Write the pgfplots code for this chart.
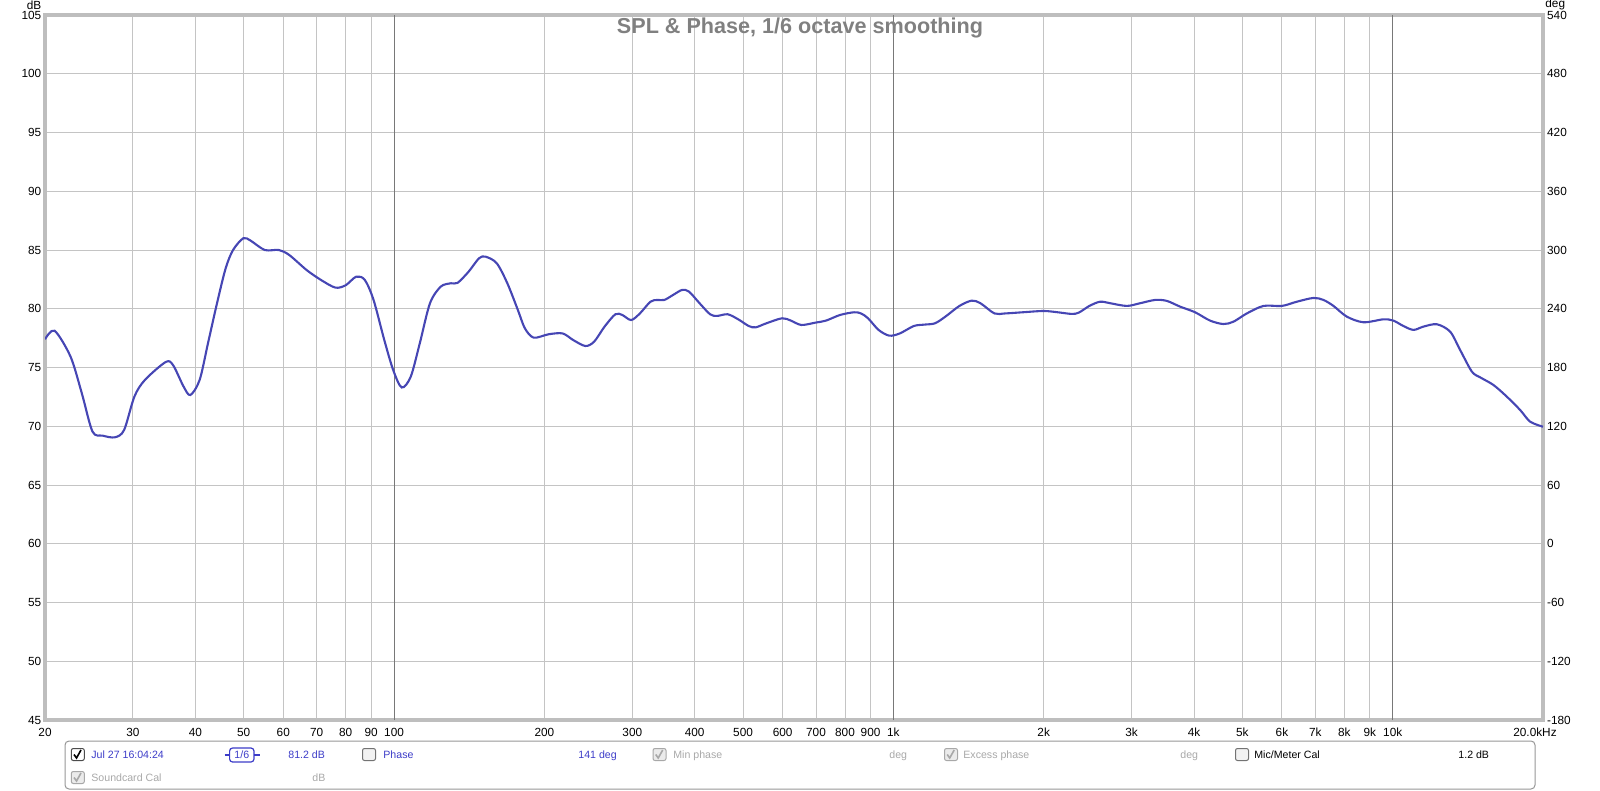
\documentclass[border=0pt]{standalone}
\usepackage{fontspec}
\setmainfont{Liberation Sans}
\usepackage{pgfplots}
\pgfplotsset{compat=1.18}
\definecolor{gridgray}{RGB}{196,196,196}
\definecolor{decgray}{RGB}{120,120,120}
\definecolor{framegray}{RGB}{190,190,190}
\definecolor{curveblue}{RGB}{70,70,180}
\definecolor{titlegray}{RGB}{128,128,128}
\definecolor{legblue}{RGB}{60,60,200}
\definecolor{leggray}{RGB}{168,168,168}
\definecolor{boxgray}{RGB}{150,150,150}
\begin{document}
\begin{tikzpicture}
\path[use as bounding box] (0,0) rectangle (800pt,-395.5pt);
\begin{axis}[
  at={(22.5pt,-360pt)}, anchor=south west,
  scale only axis, width=749pt, height=352.5pt,
  xmode=log, xmin=20, xmax=20000, ymin=45, ymax=105,
  xtick={20,30,40,50,60,70,80,90,100,200,300,400,500,600,700,800,900,1000,2000,3000,4000,5000,6000,7000,8000,9000,10000},
  xticklabels={20,30,40,50,60,70,80,90,100,200,300,400,500,600,700,800,900,1k,2k,3k,4k,5k,6k,7k,8k,9k,10k},
  ytick={45,50,...,105},
  /pgf/number format/assume math mode=true,
  grid=major,
  major grid style={color=gridgray, line width=0.5pt},
  major tick length=0pt,
  axis line style={draw=framegray, line width=1.6pt},
  tick label style={font=\fontsize{5.9}{6}\selectfont, text=black},
  xticklabel style={anchor=base, inner sep=0pt, yshift=-8pt},
  yticklabel style={anchor=east, inner sep=0pt, xshift=-1.65pt},
  extra x ticks={100,1000,10000},
  extra x tick labels={},
  extra x tick style={grid=major, major grid style={color=decgray, line width=0.5pt}},
]
\addplot[curveblue, line width=1.05pt, smooth, tension=0.5] table {
f db
20 77.4
20.9 78.13
22.5 75.92
23.7 72.8
24.9 69.54
26.1 69.2
27.6 69.06
28.8 69.68
30.2 72.52
31.7 73.94
34.9 75.47
36.1 75.2
37.9 73.37
39.1 72.66
40.8 73.94
42.4 77.06
44.2 80.46
46.0 83.44
47.6 85.0
49.9 86.0
51.6 85.8
55.1 85.0
58.8 85.0
61.7 84.57
66.8 83.3
71.4 82.45
76.3 81.8
80.0 82.0
84.0 82.73
87.4 82.45
91.0 80.74
95.6 77.34
99.6 74.79
103.6 73.3
108 74.22
112.6 77.06
118 80.46
124 81.88
130 82.17
134 82.2
141 83.15
148 84.3
152.6 84.43
160.6 83.87
168.6 82.17
177 79.9
182.8 78.34
190.4 77.54
204 77.83
217.6 77.9
228.4 77.34
241.6 76.83
251.6 77.2
264 78.48
277.5 79.53
286.5 79.47
298.4 79.04
310.7 79.6
326.2 80.6
336.9 80.75
347.9 80.75
362.3 81.18
377.4 81.6
389.7 81.46
409.1 80.47
429.5 79.53
443.6 79.39
465.8 79.53
489 79.1
513.3 78.53
530 78.42
556.5 78.76
598.6 79.19
623.4 78.99
654.3 78.62
698.3 78.82
732.8 78.99
781.9 79.47
834 79.7
861.4 79.6
889.7 79.19
934 78.2
981 77.71
1030 77.9
1098.6 78.53
1153 78.65
1211 78.76
1271 79.33
1356 80.24
1435 80.69
1494 80.47
1594 79.6
1673 79.6
1815 79.7
2000 79.81
2134 79.7
2276 79.56
2351 79.67
2469 80.24
2594 80.6
2718 80.47
2934 80.24
3120 80.47
3344 80.75
3528 80.67
3752 80.18
4020 79.7
4308 78.99
4580 78.7
4798 78.9
5102 79.6
5510 80.24
5998 80.24
6427 80.6
6938 80.92
7266 80.75
7610 80.24
8092 79.33
8738 78.85
9580 79.1
10030 78.99
10506 78.53
11004 78.2
11522 78.48
12258 78.68
13032 78.05
13646 76.49
14406 74.65
14970 74.16
15914 73.51
16926 72.52
18000 71.38
18848 70.39
20000 69.96
};
\end{axis}
\begin{axis}[
  at={(22.5pt,-360pt)}, anchor=south west,
  scale only axis, width=749pt, height=352.5pt,
  xmode=log, xmin=20, xmax=20000, ymin=-180, ymax=540,
  axis x line=none, axis y line*=right,
  axis line style={draw=none},
  ytick={-180,-120,-60,0,60,120,180,240,300,360,420,480,540},
  yticklabels={-180,-120,-60,0,60,120,180,240,300,360,420,480,540},
  major tick length=0pt,
  tick label style={font=\fontsize{5.9}{6}\selectfont, text=black},
  yticklabel style={anchor=west, inner sep=0pt, xshift=1.85pt},
]
\addplot[draw=none] coordinates {(20,0)};
\end{axis}
\begin{scope}[x=0.5pt, y=-0.5pt]
\node[font=\bfseries\fontsize{10.8}{12}\selectfont, text=titlegray, anchor=base, inner sep=0pt] at (800,33.3) {SPL \& Phase, 1/6 octave smoothing};
\node[font=\fontsize{5.9}{6}\selectfont, anchor=base east, inner sep=0pt] at (41.7,9.3) {dB};
\node[font=\fontsize{5.9}{6}\selectfont, anchor=base west, inner sep=0pt] at (1545,8) {deg};
\node[font=\fontsize{5.9}{6}\selectfont, anchor=base, inner sep=0pt] at (1535,736) {20.0kHz};
% legend box
\draw[boxgray, line width=0.5pt, rounded corners=2pt] (65,741) rectangle (1535,789);
% checkboxes
\newcommand{\cbox}[3]{%
  \draw[#2, fill=#3, line width=0.5pt, rounded corners=1pt] (#1-6.5,748.5) rectangle (#1+6.5,760.5);}
\newcommand{\cboxb}[3]{%
  \draw[#2, fill=#3, line width=0.5pt, rounded corners=1pt] (#1-6.5,771.5) rectangle (#1+6.5,783.5);}
\cbox{77.8}{black!70}{white}
\draw[black, line width=0.8pt] (74,754.5) -- (76.5,758) -- (81,750);
\node[font=\fontsize{5.3}{6}\selectfont, text=legblue, anchor=base west, inner sep=0pt] at (91,758) {Jul 27 16:04:24};
% 1/6 widget
\draw[legblue, line width=0.6pt] (224.5,755) -- (229.6,755);
\draw[legblue, line width=0.6pt] (254,755) -- (260,755);
\draw[legblue, line width=0.6pt, rounded corners=1.5pt] (229.6,748) rectangle (254,762);
\node[font=\fontsize{5.3}{6}\selectfont, text=legblue, anchor=base, inner sep=0pt] at (241.8,758) {1/6};
\node[font=\fontsize{5.3}{6}\selectfont, text=legblue, anchor=base west, inner sep=0pt] at (288,758) {81.2 dB};
\cbox{369}{black!55}{black!5}
\node[font=\fontsize{5.3}{6}\selectfont, text=legblue, anchor=base west, inner sep=0pt] at (383,758) {Phase};
\node[font=\fontsize{5.3}{6}\selectfont, text=legblue, anchor=base west, inner sep=0pt] at (578,758) {141 deg};
\cbox{659.5}{leggray}{black!8}
\draw[leggray, line width=0.8pt] (655.7,754.5) -- (658.2,758) -- (662.7,750);
\node[font=\fontsize{5.3}{6}\selectfont, text=leggray, anchor=base west, inner sep=0pt] at (673,758) {Min phase};
\node[font=\fontsize{5.3}{6}\selectfont, text=leggray, anchor=base west, inner sep=0pt] at (889,758) {deg};
\cbox{951}{leggray}{black!8}
\draw[leggray, line width=0.8pt] (947.2,754.5) -- (949.7,758) -- (954.2,750);
\node[font=\fontsize{5.3}{6}\selectfont, text=leggray, anchor=base west, inner sep=0pt] at (963,758) {Excess phase};
\node[font=\fontsize{5.3}{6}\selectfont, text=leggray, anchor=base west, inner sep=0pt] at (1180,758) {deg};
\cbox{1242}{black!55}{black!5}
\node[font=\fontsize{5.3}{6}\selectfont, text=black, anchor=base west, inner sep=0pt] at (1254,758) {Mic/Meter Cal};
\node[font=\fontsize{5.3}{6}\selectfont, text=black, anchor=base west, inner sep=0pt] at (1458,758) {1.2 dB};
% row 2
\cboxb{77.8}{leggray}{black!8}
\draw[leggray, line width=0.8pt] (74,777.5) -- (76.5,781) -- (81,773);
\node[font=\fontsize{5.3}{6}\selectfont, text=leggray, anchor=base west, inner sep=0pt] at (91,781.7) {Soundcard Cal};
\node[font=\fontsize{5.3}{6}\selectfont, text=leggray, anchor=base west, inner sep=0pt] at (312,781.7) {dB};
\end{scope}
\end{tikzpicture}
\end{document}
